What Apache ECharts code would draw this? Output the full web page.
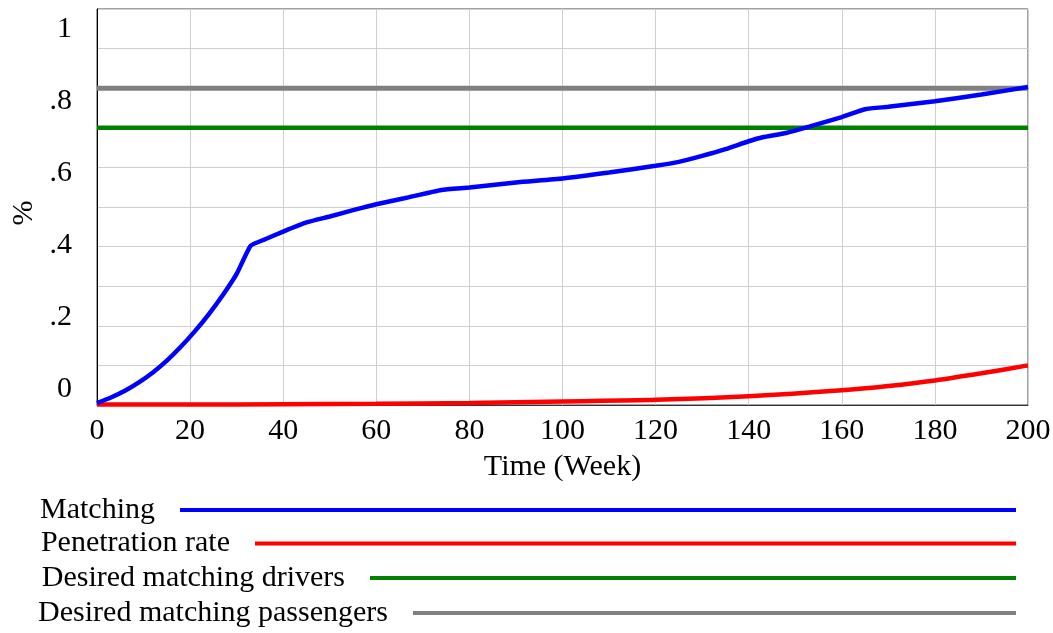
<!DOCTYPE html>
<html>
<head>
<meta charset="utf-8">
<script src="https://cdn.jsdelivr.net/npm/echarts@6/dist/echarts.min.js"></script>
<style>html,body{margin:0;padding:0;background:#fff;}#chart{width:1053px;height:633px;}</style>
</head>
<body>
<div id="chart"></div>
<script>
// ---- data ----
const seriesNames = ['Matching', 'Penetration rate', 'Desired matching drivers', 'Desired matching passengers'];
const matchingTime = [0,3,6,9,12,15,18,21,24,27,30,33,36,40,45,50,55,60,66,74,80,90,100,110,120,125,130,135,140,143,148,153,160,165,170,180,190,200];
const matchingValues = [0.005,0.019,0.036,0.057,0.082,0.112,0.147,0.186,0.229,0.277,0.331,0.402,0.418,0.438,0.461,0.476,0.492,0.507,0.522,0.543,0.549,0.562,0.572,0.587,0.604,0.614,0.629,0.646,0.666,0.676,0.687,0.703,0.727,0.747,0.753,0.767,0.784,0.803];
const penetrationTime = [0,20,40,60,80,100,120,140,160,170,180,190,200];
const penetrationValues = [0.001,0.001,0.002,0.003,0.005,0.009,0.013,0.022,0.037,0.048,0.062,0.08,0.1];
const driversTime = [0,200];
const driversValues = [0.7,0.7];
const passengersTime = [0,200];
const passengersValues = [0.8,0.8];
const xTicks = [0,20,40,60,80,100,120,140,160,180,200];
const yTickLabels = [0,0.2,0.4,0.6,0.8,1];

const pairs = (t, v) => t.map((x, i) => [x, v[i]]);
const FONT = "'Liberation Serif','Times New Roman',serif";
const colors = ['#0000ff', '#ff0000', '#008000', '#808080'];
const legendRowsTop = [494, 527.5, 562, 597];
const legendWidths = [836, 761, 646, 603];

const chart = echarts.init(document.getElementById('chart'));
const legends = seriesNames.map((n, i) => ({
  data: [n],
  right: 37,
  top: legendRowsTop[i],
  padding: 0,
  align: 'right',
  icon: 'rect',
  itemWidth: legendWidths[i],
  itemHeight: 4,
  selectedMode: false,
  textStyle: { fontFamily: FONT, fontSize: 30, color: '#000', lineHeight: 32, padding: [0, 20, 0, 0] }
}));

chart.setOption({
  animation: false,
  backgroundColor: '#fff',
  grid: { left: 97, right: 25, top: 9, bottom: 228, containLabel: false, outerBoundsMode: 'none',
    show: true, borderColor: '#444', borderWidth: 1 },
  legend: legends,
  xAxis: {
    type: 'value', min: 0, max: 200, interval: 20,
    name: 'Time (Week)', nameLocation: 'middle', nameGap: 47,
    nameTextStyle: { fontFamily: FONT, fontSize: 30, color: '#000' },
    axisLine: { show: true, lineStyle: { color: '#333', width: 1 } },
    axisTick: { show: false },
    splitLine: { show: true, lineStyle: { color: '#cfcfcf', width: 1 } },
    axisLabel: { fontFamily: FONT, fontSize: 30, color: '#000', margin: 11,
      customValues: xTicks }
  },
  yAxis: [{
    type: 'value', min: 0, max: 1, interval: 0.1,
    name: '%', nameLocation: 'middle', nameGap: 58, nameRotate: 90,
    nameTextStyle: { fontFamily: FONT, fontSize: 30, color: '#000', padding: [0, 12, 0, 0] },
    axisLine: { show: true, lineStyle: { color: '#000', width: 1 } },
    axisTick: { show: false },
    axisLabel: { show: false },
    splitLine: { show: true, lineStyle: { color: '#cfcfcf', width: 1 } }
  }, {
    type: 'value', min: -0.045, max: 1.055, position: 'left',
    axisLine: { show: false }, axisTick: { show: false }, splitLine: { show: false },
    axisLabel: { fontFamily: FONT, fontSize: 30, color: '#000', margin: 25,
      customValues: yTickLabels,
      formatter: v => (v === 0 ? '0' : v === 1 ? '1' : String(Math.round(v * 10) / 10).replace(/^0\./, '.')) }
  }],
  series: [
    { name: seriesNames[3], type: 'line', data: pairs(passengersTime, passengersValues), showSymbol: false, lineStyle: { color: colors[3], width: 5 }, itemStyle: { color: colors[3] }, z: 2 },
    { name: seriesNames[2], type: 'line', data: pairs(driversTime, driversValues), showSymbol: false, lineStyle: { color: colors[2], width: 4.5 }, itemStyle: { color: colors[2] }, z: 3 },
    { name: seriesNames[1], type: 'line', data: pairs(penetrationTime, penetrationValues), showSymbol: false, smooth: 0.3, lineStyle: { color: colors[1], width: 4.5 }, itemStyle: { color: colors[1] }, z: 4 },
    { name: seriesNames[0], type: 'line', data: pairs(matchingTime, matchingValues), showSymbol: false, smooth: 0.15, lineStyle: { color: colors[0], width: 4.5 }, itemStyle: { color: colors[0] }, z: 5 }
  ]
});
</script>
</body>
</html>
